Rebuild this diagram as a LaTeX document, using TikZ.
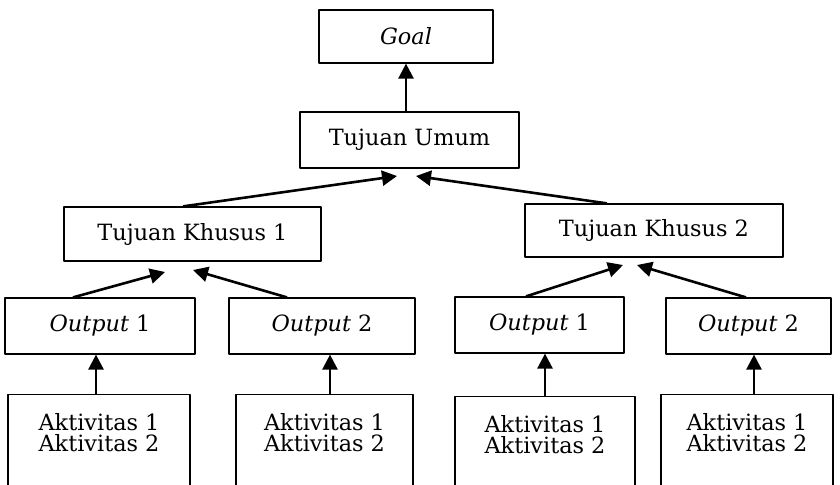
\documentclass[tikz,border=0pt]{standalone}
\usepackage{fontspec}
\setmainfont{DejaVu Serif}
\usetikzlibrary{arrows.meta,calc}

\begin{document}
\begin{tikzpicture}[x=0.5pt, y=-0.5pt, line join=bevel,
    font=\fontsize{11.2}{10.5}\selectfont]
  % one unit is one pixel of the 840 x 484 frame, y runs downwards
  \clip (0,0) rectangle (840,484);

  \tikzset{
    plan_box/.style={draw, line width=0.6pt, inner sep=0pt, align=center},
    act_box/.style={plan_box, anchor=north, inner ysep=9.6pt},
    link_arrow/.style={line width=1.3pt,
      -{Triangle[length=7.5pt,width=7.5pt]}},
  }

  % goal and general aim
  \node[plan_box, minimum width=87pt, minimum height=26.5pt]
    (goal) at (406,36.5) {\textit{Goal}};
  \node[plan_box, minimum width=109.5pt, minimum height=28pt]
    (umum) at (409.5,140) {Tujuan Umum};

  % specific aims
  \node[plan_box, minimum width=128.5pt, minimum height=27pt]
    (khusus1) at (192.5,234) {Tujuan Khusus 1};
  \node[plan_box, minimum width=129pt, minimum height=26.5pt]
    (khusus2) at (654,230.5) {Tujuan Khusus 2};

  % outputs
  \node[plan_box, minimum width=95pt, minimum height=28pt]
    (outA1) at (100,326) {\textit{Output} 1};
  \node[plan_box, minimum width=93pt, minimum height=28pt]
    (outA2) at (322,326) {\textit{Output} 2};
  \node[plan_box, minimum width=84.5pt, minimum height=28pt]
    (outB1) at (539.5,325) {\textit{Output} 1};
  \node[plan_box, minimum width=82.5pt, minimum height=28pt]
    (outB2) at (748.5,326) {\textit{Output} 2};

  % activities, cut off by the frame
  \node[act_box, minimum width=91pt]   (actA1) at (99,394)
    {Aktivitas 1\\Aktivitas 2\\~};
  \node[act_box, minimum width=88.5pt] (actA2) at (324.5,394)
    {Aktivitas 1\\Aktivitas 2\\~};
  \node[act_box, minimum width=90pt]   (actB1) at (545,396)
    {Aktivitas 1\\Aktivitas 2\\~};
  \node[act_box, minimum width=86pt]   (actB2) at (747,394)
    {Aktivitas 1\\Aktivitas 2\\~};

  % arrow tips stop short of the boxes above
  \coordinate (umumL) at (397,176);
  \coordinate (umumR) at (416,176);
  \coordinate (khusus1L) at (165,272);
  \coordinate (khusus1R) at (193,270);
  \coordinate (khusus2L) at (623,265);
  \coordinate (khusus2R) at (637,265);

  \draw[link_arrow] (goal.south |- umum.north) -- (goal.south);
  \draw[link_arrow] ($(khusus1.north)+(-9.5,0)$) -- (umumL);
  \draw[link_arrow] ($(khusus2.north)+(-47,0)$) -- (umumR);

  \draw[link_arrow] ($(outA1.north)+(-27,0)$) -- (khusus1L);
  \draw[link_arrow] ($(outA2.north)+(-35,0)$) -- (khusus1R);
  \draw[link_arrow] ($(outB1.north)+(-13.5,0)$) -- (khusus2L);
  \draw[link_arrow] ($(outB2.north)+(-2.5,0)$) -- (khusus2R);

  \draw[link_arrow] ($(actA1.north)+(-3,0)$) -- ($(outA1.south)+(-4,0)$);
  \draw[link_arrow] ($(actA2.north)+(5.5,0)$) -- ($(outA2.south)+(8,0)$);
  \draw[link_arrow] (actB1.north) -- ($(outB1.south)+(5.5,0)$);
  \draw[link_arrow] ($(actB2.north)+(7,0)$) -- ($(outB2.south)+(5.5,0)$);
\end{tikzpicture}
\end{document}
